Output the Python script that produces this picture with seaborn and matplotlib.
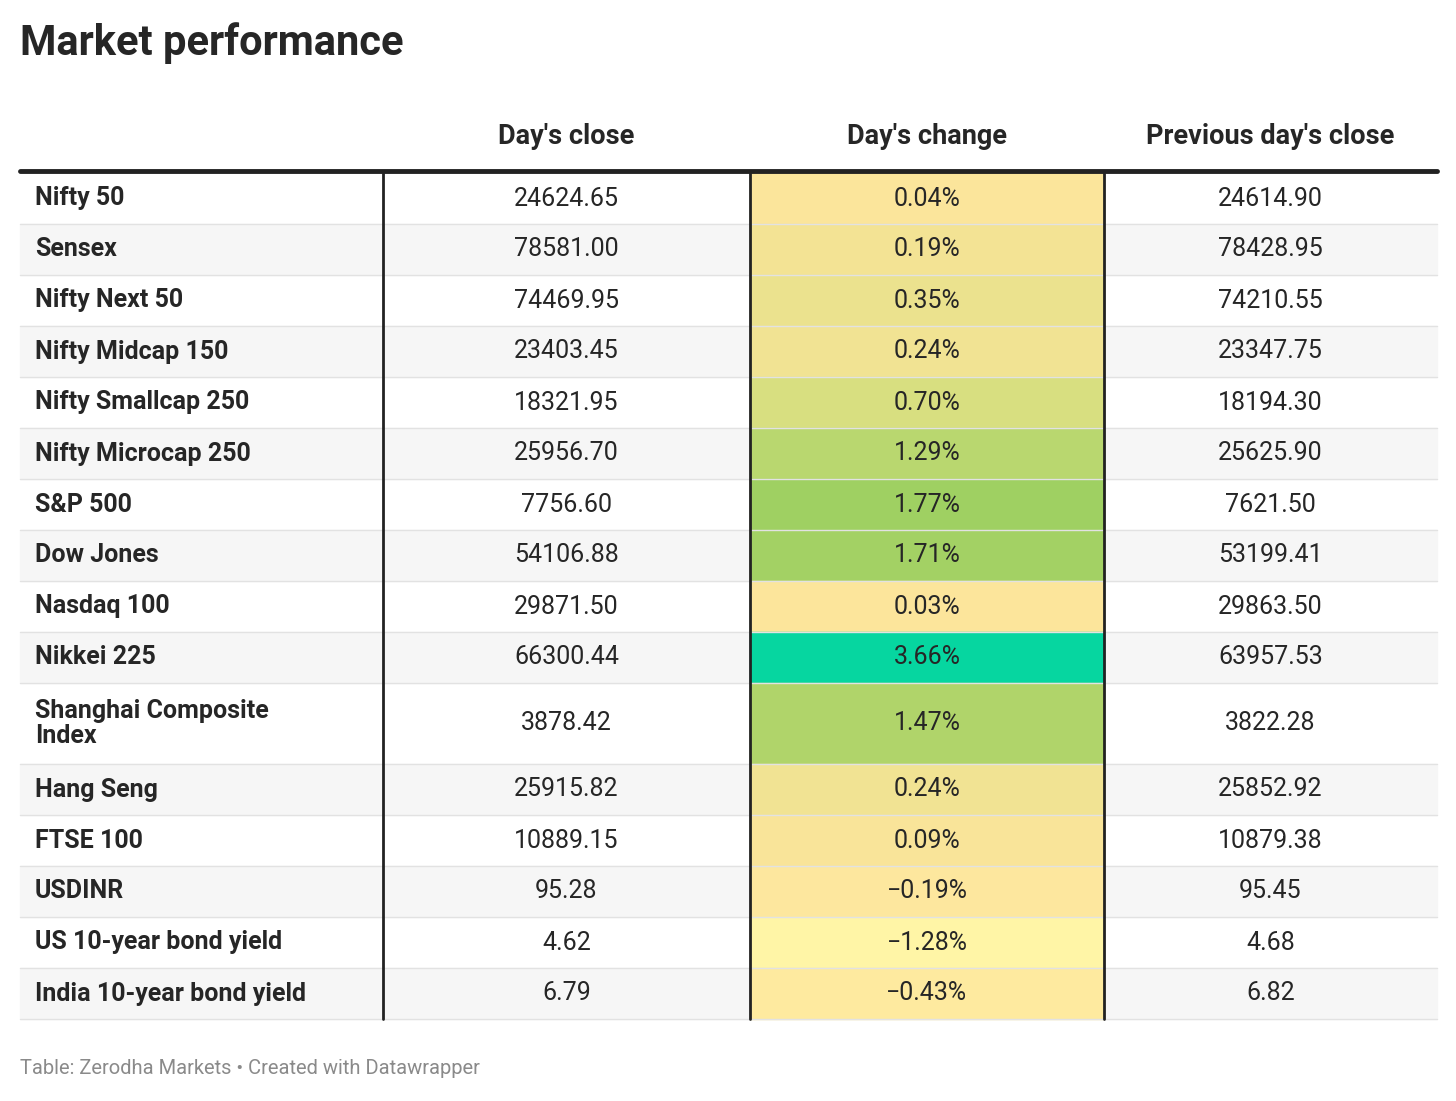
import numpy as np
import seaborn as sns
import matplotlib.pyplot as plt
from matplotlib.colors import LinearSegmentedColormap, Normalize

names = ["Nifty 50", "Sensex", "Nifty Next 50", "Nifty Midcap 150", "Nifty Smallcap 250",
         "Nifty Microcap 250", "S&P 500", "Dow Jones", "Nasdaq 100", "Nikkei 225",
         "Shanghai Composite\nIndex", "Hang Seng", "FTSE 100", "USDINR",
         "US 10-year bond yield", "India 10-year bond yield"]
close = ["24624.65", "78581.00", "74469.95", "23403.45", "18321.95", "25956.70", "7756.60",
         "54106.88", "29871.50", "66300.44", "3878.42", "25915.82", "10889.15", "95.28",
         "4.62", "6.79"]
change = [0.04, 0.19, 0.35, 0.24, 0.70, 1.29, 1.77, 1.71, 0.03, 3.66, 1.47, 0.24, 0.09,
          -0.19, -1.28, -0.43]
prev = ["24614.90", "78428.95", "74210.55", "23347.75", "18194.30", "25625.90", "7621.50",
        "53199.41", "29863.50", "63957.53", "3822.28", "25852.92", "10879.38", "95.45",
        "4.68", "6.82"]
headers = ["Day's close", "Day's change", "Previous day's close"]

sns.set_style("white")
plt.rcParams['font.family'] = ['Roboto', 'DejaVu Sans']

W, H = 1456, 1101
fig = plt.figure(figsize=(W / 100, H / 100), dpi=100)
ax = fig.add_axes([0, 0, 1, 1])
ax.set_xlim(0, W)
ax.set_ylim(H, 0)
ax.axis("off")

rng = (-1.28, 3.66)
pos = lambda v: (v - rng[0]) / (rng[1] - rng[0])
cmap = LinearSegmentedColormap.from_list("chg", [
    (0, "#fff5a6"), (pos(0), "#fde59c"), (pos(0.7), "#d8df80"),
    (pos(1.77), "#a0d062"), (1, "#06d6a0")])
norm = Normalize(*rng)

cols = [20, 383, 750, 1104, 1437]
ax.text(20, 43, "Market performance", fontsize=30, fontweight="bold", va="center")
for i, h in enumerate(headers):
    ax.text((cols[i + 1] + cols[i + 2]) / 2, 136, h, fontsize=19.5, fontweight="bold",
            ha="center", va="center")
ax.plot([20, 1437], [171, 171], color="#222", lw=3.5)

y = 173
for i, n in enumerate(names):
    h = 81 if "\n" in n else 51
    if i % 2 == 1:
        ax.add_patch(plt.Rectangle((20, y), 1417, h, color="#f6f6f6", zorder=0))
    ax.add_patch(plt.Rectangle((cols[2], y), cols[3] - cols[2], h,
                               color=cmap(norm(change[i])), zorder=1))
    ax.plot([20, 1437], [y + h, y + h], color="#e2e2e2", lw=1, zorder=2)
    cy = y + h / 2
    ax.text(35, cy, n, fontsize=18, fontweight="bold", va="center", linespacing=1.1)
    ax.text((cols[1] + cols[2]) / 2, cy, close[i], fontsize=18, ha="center", va="center")
    s = f"{change[i]:.2f}%".replace("-", "\u2212")
    ax.text((cols[2] + cols[3]) / 2, cy, s, fontsize=18, ha="center", va="center", zorder=3)
    ax.text((cols[3] + cols[4]) / 2, cy, prev[i], fontsize=18, ha="center", va="center")
    y += h

for x in cols[1:4]:
    ax.plot([x, x], [173, y], color="#222", lw=2, zorder=3)

ax.text(20, 1069, "Table: Zerodha Markets \u2022 Created with Datawrapper", fontsize=14.5,
        color="#8a8a8a", va="center")
fig.savefig("out.png", dpi=100)
